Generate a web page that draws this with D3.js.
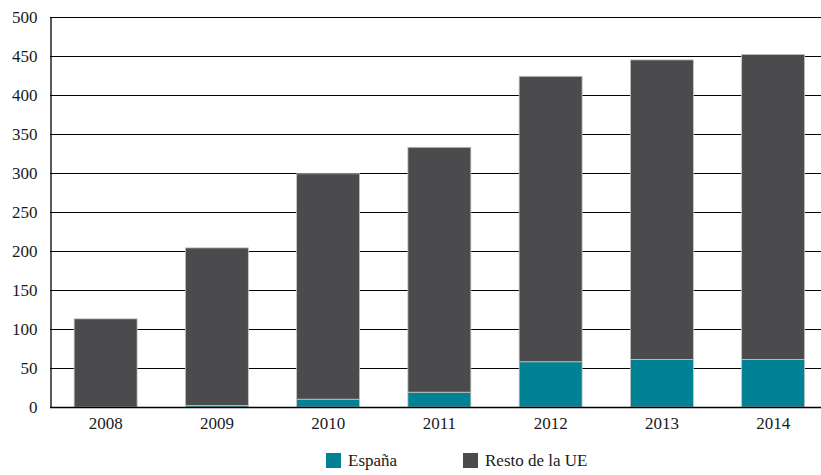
<!DOCTYPE html>
<html>
<head>
<meta charset="utf-8">
<script src="https://cdn.jsdelivr.net/npm/d3@7/dist/d3.min.js"></script>
<style>
  body { margin: 0; background: #fff; }
  svg text { font-family: 'Liberation Serif', 'Times New Roman', 'DejaVu Serif', serif; fill: #1a1a1a; }
</style>
</head>
<body>
<svg id="chart" width="821" height="475"></svg>
<script>
// Años y valores de cada serie
const years = ["2008", "2009", "2010", "2011", "2012", "2013", "2014"];
const espana = [0, 2, 10, 19, 58, 61, 61];
const restoUE = [113, 202, 289, 314, 366, 384, 391];
const seriesNames = ["España", "Resto de la UE"];
const seriesColors = ["#008294", "#4b4b4d"];
const yTicks = [0, 50, 100, 150, 200, 250, 300, 350, 400, 450, 500];

const serif = "'Liberation Serif', 'Times New Roman', 'DejaVu Serif', serif";
const svg = d3.select("#chart");
const margin = { left: 50, top: 17, bottom: 68 };
const height = 475;

const x = d3.scaleBand()
  .domain(years)
  .range([margin.left, margin.left + 7 * 111.25])
  .paddingInner(0.434)
  .paddingOuter(0.217);

const y = d3.scaleLinear()
  .domain([0, 500])
  .range([height - margin.bottom, margin.top]);

// Líneas de cuadrícula horizontales
svg.append("g")
  .selectAll("line")
  .data(yTicks.filter(d => d > 0))
  .join("line")
  .attr("x1", margin.left)
  .attr("x2", 821)
  .attr("y1", d => Math.round(y(d)) + 0.5)
  .attr("y2", d => Math.round(y(d)) + 0.5)
  .attr("stroke", "#000")
  .attr("stroke-width", 1.2);

// Barras apiladas
const rows = years.map((yr, i) => ({ year: yr, "España": espana[i], "Resto de la UE": restoUE[i] }));
const stacked = d3.stack().keys(seriesNames)(rows);

svg.append("g")
  .selectAll("g")
  .data(stacked)
  .join("g")
  .attr("fill", (d, i) => seriesColors[i])
  .selectAll("rect")
  .data(d => d)
  .join("rect")
  .attr("x", d => x(d.data.year))
  .attr("width", x.bandwidth())
  .attr("y", d => y(d[1]))
  .attr("height", d => Math.max(0, y(d[0]) - y(d[1])))
  .attr("stroke", "#c4c4c4")
  .attr("stroke-width", d => (y(d[0]) - y(d[1])) > 0.5 ? 0.8 : 0);

// Eje Y
const yAxis = svg.append("g")
  .attr("transform", `translate(${margin.left + 0.5},0)`)
  .call(d3.axisLeft(y).tickValues(yTicks).tickSize(0).tickPadding(13))
  .attr("font-family", serif)
  .attr("font-size", 17);
yAxis.select(".domain").attr("stroke", "#000").attr("stroke-width", 1.3);
yAxis.selectAll("text").style("font-family", serif).attr("fill", "#1a1a1a");

// Línea base y eje X
svg.append("line")
  .attr("x1", margin.left)
  .attr("x2", 821)
  .attr("y1", y(0) + 0.5)
  .attr("y2", y(0) + 0.5)
  .attr("stroke", "#000")
  .attr("stroke-width", 1.3);

const xAxis = svg.append("g")
  .attr("transform", `translate(0,${y(0)})`)
  .call(d3.axisBottom(x).tickSize(0).tickPadding(10))
  .attr("font-family", serif)
  .attr("font-size", 17);
xAxis.select(".domain").remove();
xAxis.selectAll("text").style("font-family", serif).attr("fill", "#1a1a1a");

// Leyenda
const legendX = [326, 463];
const legend = svg.append("g")
  .selectAll("g")
  .data(seriesNames)
  .join("g")
  .attr("transform", (d, i) => `translate(${legendX[i]},453)`);
legend.append("rect")
  .attr("width", 15)
  .attr("height", 15)
  .attr("fill", (d, i) => seriesColors[i]);
legend.append("text")
  .attr("x", 22)
  .attr("y", 13)
  .attr("font-size", 17)
  .style("font-family", serif)
  .text(d => d);
</script>
</body>
</html>
